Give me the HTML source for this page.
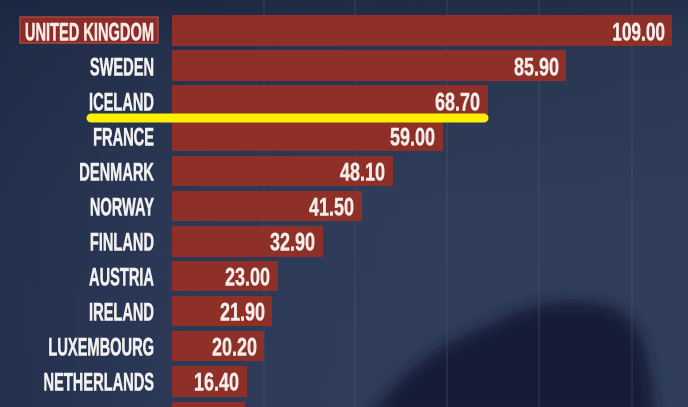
<!DOCTYPE html>
<html><head><meta charset="utf-8"><style>
html,body{margin:0;padding:0;background:#2c3a58;}
svg{display:block;}
text{font-family:"Liberation Sans",sans-serif;font-weight:bold;font-size:25px;}
</style></head><body>
<svg width="688" height="407" viewBox="0 0 688 407" xmlns="http://www.w3.org/2000/svg">
<defs>
<linearGradient id="bgv" x1="0" y1="0" x2="0" y2="1">
<stop offset="0" stop-color="#1d2843"/>
<stop offset="0.12" stop-color="#27344f"/>
<stop offset="0.5" stop-color="#2e3c59"/>
<stop offset="1" stop-color="#2f3d5b"/>
</linearGradient>
<linearGradient id="bgh" x1="0" y1="0" x2="1" y2="0">
<stop offset="0" stop-color="#1b2540" stop-opacity="0.55"/>
<stop offset="0.25" stop-color="#1b2540" stop-opacity="0.15"/>
<stop offset="0.6" stop-color="#35435f" stop-opacity="0.1"/>
<stop offset="1" stop-color="#35435f" stop-opacity="0.25"/>
</linearGradient>
<filter id="blur" x="-20%" y="-20%" width="140%" height="140%"><feGaussianBlur stdDeviation="7"/></filter>
</defs>
<rect width="688" height="407" fill="url(#bgv)"/>
<rect width="688" height="407" fill="url(#bgh)"/>
<!-- dark silhouette -->
<path d="M368,420 C392,382 425,352 472,332 C502,319 522,305 560,302 C598,300 625,306 638,330 C648,350 652,380 656,420 Z" fill="#141b37" filter="url(#blur)"/>
<!-- gridlines -->
<g stroke="#4a587a" stroke-width="1.2" opacity="0.45">
<line x1="264" y1="0" x2="264" y2="407"/>
<line x1="355" y1="0" x2="355" y2="407"/>
<line x1="447" y1="0" x2="447" y2="407"/>
<line x1="539" y1="0" x2="539" y2="407"/>
<line x1="632" y1="0" x2="632" y2="407"/>
</g>
<!-- bars -->
<g fill="#8e2f28">
<rect x="172" y="15" width="500" height="31"/>
<rect x="172" y="50" width="394" height="31"/>
<rect x="172" y="85" width="316" height="31"/>
<rect x="172" y="120" width="271" height="31"/>
<rect x="172" y="156" width="221" height="30"/>
<rect x="172" y="191" width="190" height="30"/>
<rect x="172" y="226" width="151" height="31"/>
<rect x="172" y="261" width="106" height="30"/>
<rect x="172" y="296" width="100" height="30"/>
<rect x="172" y="331" width="92" height="30"/>
<rect x="172" y="366" width="75" height="31"/>
<rect x="172" y="402" width="73" height="10"/>
</g>
<!-- UK label box -->
<rect x="20" y="17" width="138" height="26" fill="#8a2c28" stroke="#a8463f" stroke-width="1.5"/>
<!-- labels -->
<g fill="#f2f0f0" text-anchor="end" stroke="#f2f0f0" stroke-width="0.6">
<text transform="translate(154,40.5) scale(0.585,1)" fill="#f7e9e4" stroke="#f7e9e4">UNITED KINGDOM</text>
<text transform="translate(154,75.5) scale(0.585,1)">SWEDEN</text>
<text transform="translate(154,110.5) scale(0.585,1)">ICELAND</text>
<text transform="translate(154,145.5) scale(0.585,1)">FRANCE</text>
<text transform="translate(154,180.5) scale(0.585,1)">DENMARK</text>
<text transform="translate(154,215.5) scale(0.585,1)">NORWAY</text>
<text transform="translate(154,250.5) scale(0.585,1)">FINLAND</text>
<text transform="translate(154,285.5) scale(0.585,1)">AUSTRIA</text>
<text transform="translate(154,320.5) scale(0.585,1)">IRELAND</text>
<text transform="translate(154,355.5) scale(0.585,1)">LUXEMBOURG</text>
<text transform="translate(154,390.5) scale(0.585,1)">NETHERLANDS</text>
</g>
<!-- values -->
<g fill="#f3ece8" text-anchor="end" stroke="#f3ece8" stroke-width="0.5">
<text transform="translate(665,40.5) scale(0.69,1)">109.00</text>
<text transform="translate(559,75.5) scale(0.72,1)">85.90</text>
<text transform="translate(480,110.5) scale(0.72,1)">68.70</text>
<text transform="translate(435,145.5) scale(0.72,1)">59.00</text>
<text transform="translate(385,180.5) scale(0.72,1)">48.10</text>
<text transform="translate(354,215.5) scale(0.72,1)">41.50</text>
<text transform="translate(315,250.5) scale(0.72,1)">32.90</text>
<text transform="translate(270,285.5) scale(0.72,1)">23.00</text>
<text transform="translate(265,320.5) scale(0.72,1)">21.90</text>
<text transform="translate(257,355.5) scale(0.72,1)">20.20</text>
<text transform="translate(239,390.5) scale(0.72,1)">16.40</text>
</g>
<!-- yellow underline -->
<line x1="91" y1="118" x2="484" y2="118" stroke="#fff000" stroke-width="9" stroke-linecap="round"/>
</svg>
</body></html>
